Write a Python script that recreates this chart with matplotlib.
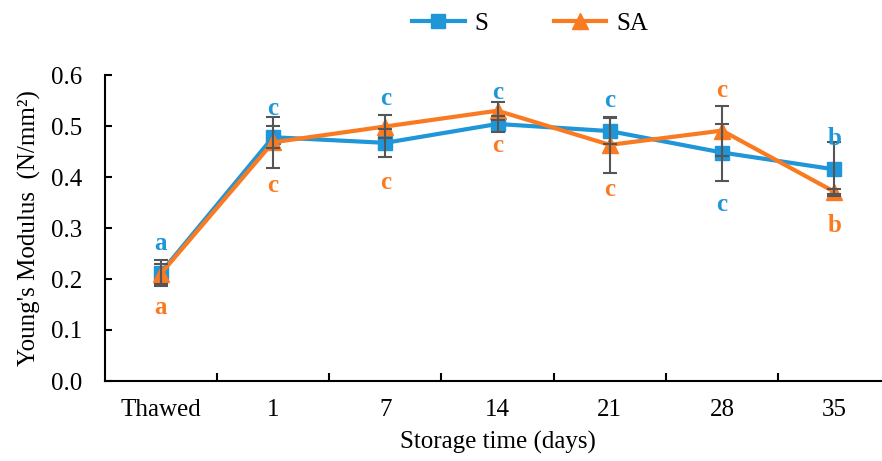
import numpy as np
import matplotlib
matplotlib.use("Agg")
from matplotlib import pyplot as plt
from matplotlib.lines import Line2D

categories = ['Thawed', '1', '7', '14', '21', '28', '35']

s_vals = [0.212, 0.478, 0.467, 0.504, 0.490, 0.448, 0.415]
s_err = [0.025, 0.022, 0.027, 0.015, 0.025, 0.055, 0.053]
sa_vals = [0.210, 0.468, 0.499, 0.530, 0.463, 0.491, 0.371]
sa_err = [0.020, 0.050, 0.023, 0.018, 0.055, 0.049, 0.005]

# significance letters and the y where each one sits
s_letters = ['a', 'c', 'c', 'c', 'c', 'c', 'b']
s_letter_y = [0.269, 0.535, 0.554, 0.566, 0.550, 0.347, 0.475]
sa_letters = ['a', 'c', 'c', 'c', 'c', 'c', 'b']
sa_letter_y = [0.145, 0.384, 0.390, 0.461, 0.375, 0.569, 0.305]

blue = '#1E96D8'
orange = '#FA7A22'
errc = '#555555'

plt.rcParams['font.family'] = ['Liberation Serif', 'DejaVu Serif']

fig = plt.figure(figsize=(8.82, 4.61), dpi=100)
ax = fig.add_axes([104.5 / 882, 1 - 381 / 461, 786 / 882, 306 / 461])

x = np.arange(len(categories))

ax.errorbar(x, s_vals, yerr=s_err, fmt='none', ecolor=errc, elinewidth=1.5,
            capsize=5, capthick=1.5, zorder=4)
ax.errorbar(x, sa_vals, yerr=sa_err, fmt='none', ecolor=errc, elinewidth=1.5,
            capsize=5, capthick=1.5, zorder=4)
ax.plot(x, s_vals, color=blue, lw=3, marker='s', ms=10, zorder=3)
ax.plot(x, sa_vals, color=orange, lw=3, marker='^', ms=12, zorder=3.5)

for i in range(len(categories)):
    ax.text(x[i], s_letter_y[i], s_letters[i], color=blue, fontsize=18,
            fontweight='bold', ha='center', va='center', zorder=5)
    ax.text(x[i], sa_letter_y[i], sa_letters[i], color=orange, fontsize=18,
            fontweight='bold', ha='center', va='center', zorder=5)

ax.set_xlim(-0.5, len(categories) - 0.5)
ax.set_ylim(0, 0.6)
ax.set_yticks(np.arange(0, 0.61, 0.1))
ax.set_yticklabels(['%.1f' % v for v in np.arange(0, 0.61, 0.1)])
ax.set_xticks(x)
ax.set_xticklabels(categories)
ax.set_xticks(np.arange(0.5, len(categories) - 1, 1), minor=True)
ax.tick_params(axis='x', which='major', length=0, pad=13, labelsize=18)
ax.tick_params(axis='x', which='minor', direction='in', length=6, width=1.5)
ax.tick_params(axis='y', direction='in', length=5, width=1.5, labelsize=18, pad=16)

for sp in ['top', 'right']:
    ax.spines[sp].set_visible(False)
for sp in ['left', 'bottom']:
    ax.spines[sp].set_linewidth(1.5)

ax.set_xlabel('Storage time (days)', fontsize=18, labelpad=7)
ax.set_ylabel("Young's Modulus  (N/mm²)", fontsize=18, labelpad=7)

handles = [Line2D([], [], color=blue, lw=3, marker='s', ms=10),
           Line2D([], [], color=orange, lw=3, marker='^', ms=11)]
fig.legend(handles, ['S', 'SA'], loc='center', bbox_to_anchor=(530 / 882, 1 - 24 / 461),
           ncol=2, frameon=False, fontsize=18, handlelength=2.1, handletextpad=0.4,
           columnspacing=2.6)

fig.savefig('out.png', dpi=100)
